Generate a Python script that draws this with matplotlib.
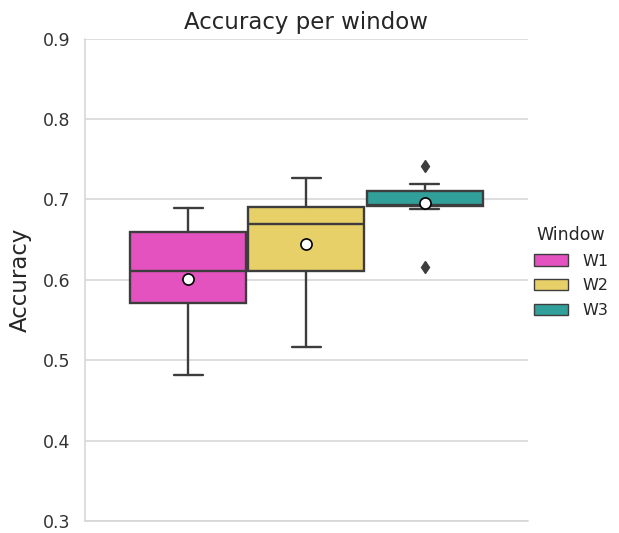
import matplotlib
matplotlib.use("Agg")
import matplotlib.pyplot as plt
import matplotlib.patches as mpatches
import seaborn as sns

# per-window accuracy summaries
windows = ["W1", "W2", "W3"]
whisker_low = [0.482, 0.517, 0.688]
q1 = [0.571, 0.611, 0.692]
median = [0.611, 0.670, 0.693]
q3 = [0.659, 0.691, 0.711]
whisker_high = [0.689, 0.727, 0.719]
mean = [0.601, 0.644, 0.695]
outliers = [[], [], [0.742, 0.616]]
colors = ["#e352be", "#e8d068", "#31a09a"]

sns.set_style("whitegrid")
plt.rcParams["font.family"] = ["DejaVu Sans"]

fig = plt.figure(figsize=(6.19, 5.33), dpi=100)
ax = fig.add_axes([0.137, 0.0225, 0.716, 0.905])

edge = "#3d3d3d"
stats = []
for i in range(len(windows)):
    stats.append(dict(label=windows[i], whislo=whisker_low[i], q1=q1[i], med=median[i],
                      q3=q3[i], whishi=whisker_high[i], mean=mean[i], fliers=outliers[i]))

width = 0.8 / len(windows)
positions = [-0.8 / 2 + width * (i + 0.5) for i in range(len(windows))]

bp = ax.bxp(stats, positions=positions, widths=width * 0.98, patch_artist=True,
            showmeans=True, showfliers=True,
            boxprops=dict(edgecolor=edge, linewidth=1.7),
            medianprops=dict(color=edge, linewidth=1.7),
            whiskerprops=dict(color=edge, linewidth=1.7),
            capprops=dict(color=edge, linewidth=1.7),
            meanprops=dict(marker="o", markerfacecolor="white", markeredgecolor="black",
                           markersize=8, markeredgewidth=1.2),
            flierprops=dict(marker="d", markerfacecolor=edge, markeredgecolor=edge,
                            markersize=6.5))
for patch, c in zip(bp["boxes"], colors):
    patch.set_facecolor(c)
for cap in bp["caps"]:
    xs = cap.get_xdata()
    mid = (xs[0] + xs[1]) / 2
    half = (xs[1] - xs[0]) / 2
    cap.set_xdata([mid - half * 0.5, mid + half * 0.5])

ax.set_xlim(-0.5, 0.5)
ax.set_ylim(0.3, 0.9)
ax.set_xticks([])
ax.set_yticks([0.3, 0.4, 0.5, 0.6, 0.7, 0.8, 0.9])
ax.tick_params(axis="y", labelsize=12.5, colors="#333333", pad=7)
ax.grid(axis="x", visible=False)
ax.grid(axis="y", color="#d5d5d5", linewidth=1.1)
ax.set_ylabel("Accuracy", fontsize=16.5, color="#262626", labelpad=8)
ax.set_title("Accuracy per window", fontsize=16.5, color="#262626", pad=7)
for s in ["top", "right"]:
    ax.spines[s].set_visible(False)
for s in ["left", "bottom"]:
    ax.spines[s].set_color("#d5d5d5")
    ax.spines[s].set_linewidth(1.1)

handles = [mpatches.Patch(facecolor=c, edgecolor=edge, linewidth=1, label=w)
           for w, c in zip(windows, colors)]
fig.legend(handles=handles, title="Window", loc="center left",
           bbox_to_anchor=(0.845, 0.49), frameon=False, fontsize=11.5,
           title_fontsize=12.5, handlelength=2.1, handletextpad=0.9,
           labelspacing=0.6, borderaxespad=0.3)

fig.savefig("out.png", dpi=100)
